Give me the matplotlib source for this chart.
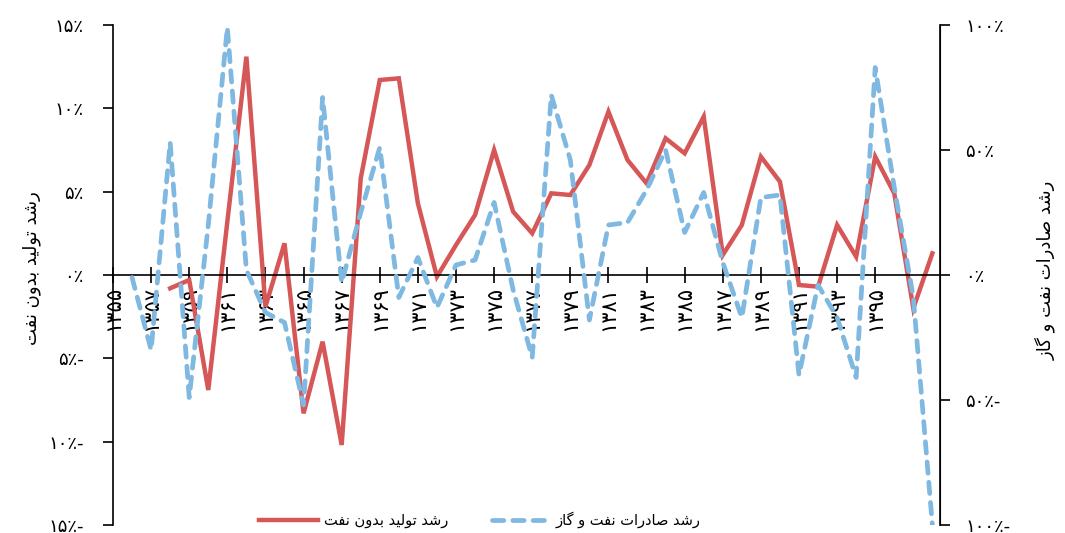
import numpy as np
import matplotlib
matplotlib.use("Agg")
import matplotlib.pyplot as plt


# --- Data --- #
years = list(range(1355, 1399))

# non-oil production growth (%), left axis
non_oil_growth = [np.nan, np.nan, np.nan, -0.8, -0.3, -6.9, 3.2, 13.1, -1.9, 1.9,
                  -8.3, -4.0, -10.2, 5.8, 11.7, 11.8, 4.3, -0.1, 1.8, 3.6,
                  7.5, 3.8, 2.5, 4.9, 4.8, 6.6, 9.8, 6.9, 5.5, 8.2,
                  7.3, 9.5, 1.2, 3.0, 7.1, 5.6, -0.6, -0.7, 3.0, 1.1,
                  7.1, 4.9, -2.0, 1.3]

# oil and gas export growth (%), right axis
export_growth = [np.nan, -1, -30, 53, -49, 20, 99, 2, -15, -19,
                 -52, 71, -3, 25, 51, -9, 7, -13, 4, 6,
                 29, -6, -33, 72, 46, -18, 20, 21, 34, 50,
                 17, 33, 5, -17, 31, 32, -40, -4, -17, -41,
                 83, 35, -9, -100]

left_ticks = [-15, -10, -5, 0, 5, 10, 15]
right_ticks = [-100, -50, 0, 50, 100]

label_left = "رشد تولید بدون نفت"
label_right = "رشد صادرات نفت و گاز"


# --- Persian text helpers --- #
# (isolated, final, initial, medial); right-joining letters only have two forms
FORMS = {
    'ر': ('\uFEAD', '\uFEAE'), 'د': ('\uFEA9', '\uFEAA'), 'و': ('\uFEED', '\uFEEE'),
    'ا': ('\uFE8D', '\uFE8E'), 'ز': ('\uFEAF', '\uFEB0'),
    'ش': ('\uFEB5', '\uFEB6', '\uFEB7', '\uFEB8'), 'ت': ('\uFE95', '\uFE96', '\uFE97', '\uFE98'),
    'ل': ('\uFEDD', '\uFEDE', '\uFEDF', '\uFEE0'), 'ی': ('\uFBFC', '\uFBFD', '\uFBFE', '\uFBFF'),
    'ب': ('\uFE8F', '\uFE90', '\uFE91', '\uFE92'), 'ن': ('\uFEE5', '\uFEE6', '\uFEE7', '\uFEE8'),
    'ف': ('\uFED1', '\uFED2', '\uFED3', '\uFED4'), 'ص': ('\uFEB9', '\uFEBA', '\uFEBB', '\uFEBC'),
    'گ': ('\uFB92', '\uFB93', '\uFB94', '\uFB95'),
}


def shape(text):
    out = []
    for i, ch in enumerate(text):
        if ch not in FORMS:
            out.append(ch)
            continue
        prev = text[i - 1] if i > 0 else ''
        nxt = text[i + 1] if i + 1 < len(text) else ''
        join_prev = prev in FORMS and len(FORMS[prev]) == 4
        join_next = len(FORMS[ch]) == 4 and nxt in FORMS
        f = FORMS[ch]
        if join_prev and join_next:
            out.append(f[3])
        elif join_prev:
            out.append(f[1])
        elif join_next:
            out.append(f[2])
        else:
            out.append(f[0])
    return ''.join(out)[::-1]


def fa_digits(n):
    return str(n).translate(str.maketrans('0123456789', '۰۱۲۳۴۵۶۷۸۹'))


def fa_percent(v):
    s = fa_digits(abs(v)) + '٪'
    return s + '-' if v < 0 else s


# --- Plot --- #
plt.rcParams['font.family'] = ['DejaVu Sans']

red = '#D65757'
blue = '#7FB8E0'

fig = plt.figure(figsize=(10.65, 5.33), dpi=100)
ax = fig.add_axes([113 / 1065, 8 / 533, 827 / 1065, 500 / 533])
ax2 = ax.twinx()

ln1, = ax.plot(years, non_oil_growth, color=red, lw=3.2, solid_joinstyle='miter',
               label=shape(label_left), zorder=2)
ln2, = ax2.plot(years, export_growth, color=blue, lw=3.4, linestyle=(0, (2.4, 1.9)),
                dash_capstyle='round', label=shape(label_right), zorder=3)

ax.set_xlim(1355, 1398.4)
ax.set_ylim(-15, 15)
ax2.set_ylim(-100, 100)

# left axis
ax.set_yticks(left_ticks)
ax.set_yticklabels([fa_percent(v) for v in left_ticks], fontsize=13)
ax.tick_params(axis='y', direction='out', length=7, width=1.2, pad=14)

# right axis
ax2.set_yticks(right_ticks)
ax2.set_yticklabels([fa_percent(v) for v in right_ticks], fontsize=13)
ax2.tick_params(axis='y', direction='out', length=7, width=1.2, pad=11)

# x axis sits on zero
ax.spines['bottom'].set_position(('data', 0))
ax.spines['top'].set_visible(False)
ax2.spines['top'].set_visible(False)
ax2.spines['bottom'].set_visible(False)
ax2.spines['left'].set_visible(False)
for sp in [ax.spines['left'], ax.spines['bottom'], ax2.spines['right']]:
    sp.set_linewidth(1.2)

xt = years[::2][:-1]
ax.set_xticks(xt)
ax.set_xticklabels([fa_digits(y) for y in xt], rotation=90, fontsize=15, va='top')
ax.tick_params(axis='x', direction='inout', length=12, width=1.2, pad=2)

fig.text(32 / 1065, 1 - 268 / 533, shape(label_left), rotation=90, fontsize=13,
         ha='center', va='center')
fig.text(1045 / 1065, 1 - 270 / 533, shape(label_right), rotation=90, fontsize=13,
         ha='center', va='center')

fig.legend(handles=[ln1, ln2], loc='center', bbox_to_anchor=(480 / 1065, 1 - 520 / 533),
           ncol=2, frameon=False, fontsize=10.5, handlelength=4.0, columnspacing=3.0,
           handletextpad=0.4)

fig.savefig('out.png', dpi=100)
